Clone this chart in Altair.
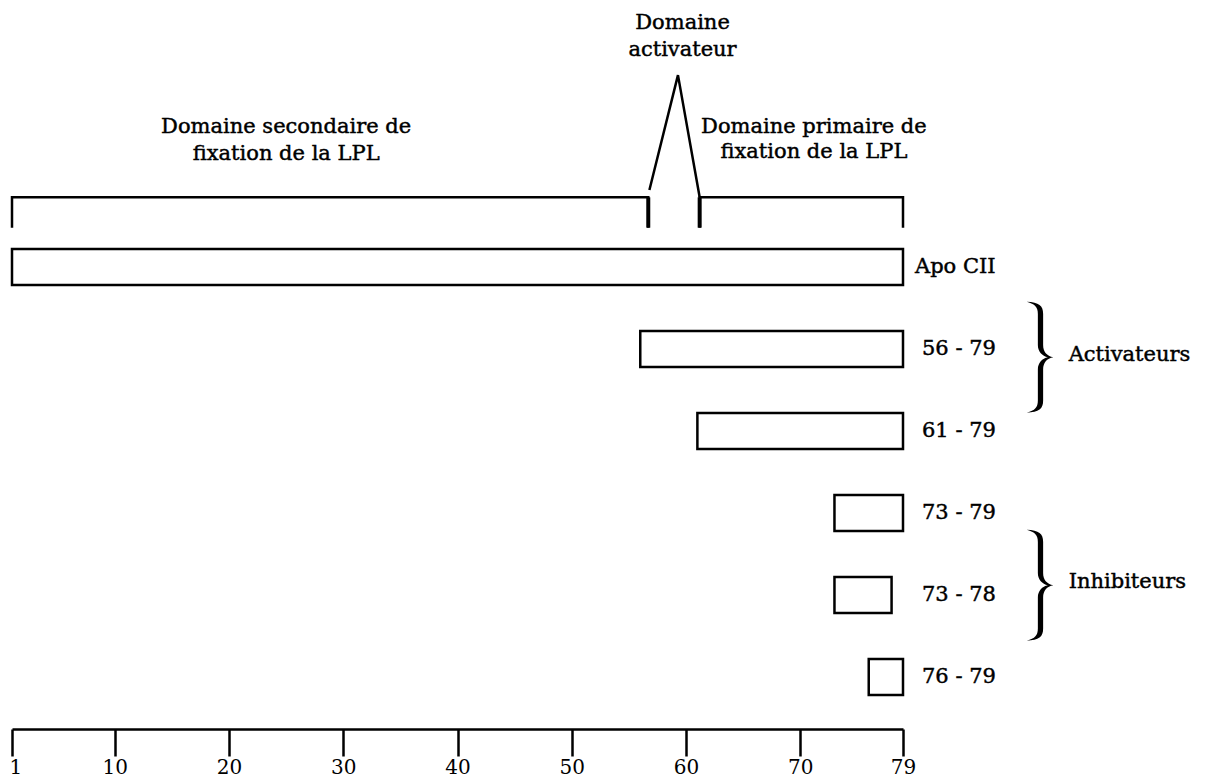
import altair as alt
import pandas as pd

# ---- data ----
pep_labels = ["Apo CII", "56 - 79", "61 - 79", "73 - 79", "73 - 78", "76 - 79"]
pep_start = [1, 56, 61, 73, 73, 76]
pep_end = [79, 79, 79, 79, 78, 79]
pep_row = [1, 2, 3, 4, 5, 6]
pep_label_x = [79, 79, 79, 79, 79, 79]

axis_ticks = [1, 10, 20, 30, 40, 50, 60, 70, 79]

# domain bracket (residue, row level)
br_segment = ["sec"] * 4 + ["act"] * 3 + ["prim"] * 4
br_x = [1, 1, 56.7, 56.7, 56.8, 59.3, 61.2, 61.2, 61.2, 79, 79]
br_row = [0.52, 0.15, 0.15, 0.52, 0.06, -1.34, 0.15, 0.52, 0.15, 0.15, 0.52]
br_thick_x = [56.7, 61.2]

dom_text = ["Domaine", "activateur", "Domaine secondaire de", "fixation de la LPL",
            "Domaine primaire de", "fixation de la LPL"]
dom_x = [59.7, 59.7, 25.0, 25.0, 71.2, 71.2]
dom_row = [-1.90, -1.57, -0.63, -0.30, -0.64, -0.33]

grp_text = ["Activateurs", "Inhibiteurs"]
grp_row = [2.07, 4.84]
brace_row = [2.10, 4.88]
brace_x = [91.0, 91.0]
grp_x = [93.5, 93.5]

FONT = "DejaVu Serif"
FS = 21
TXT = dict(font=FONT, fontSize=FS, color="black", stroke="black", strokeWidth=0.45)
BRACE = ("M -0.24 -1 C -0.02 -0.99 0.055 -0.93 0.055 -0.78 L 0.055 -0.22 "
         "C 0.055 -0.10 0.12 -0.02 0.24 0 C 0.12 0.02 0.055 0.10 0.055 0.22 "
         "L 0.055 0.78 C 0.055 0.93 -0.02 0.99 -0.24 1 "
         "C -0.09 0.96 -0.04 0.90 -0.04 0.78 L -0.04 0.22 "
         "C -0.04 0.10 0.04 0.02 0.14 0 C 0.04 -0.02 -0.04 -0.10 -0.04 -0.22 "
         "L -0.04 -0.78 C -0.04 -0.90 -0.09 -0.96 -0.24 -1 Z")

pep = pd.DataFrame({"label": pep_labels, "start": pep_start, "end": pep_end,
                    "row": pep_row, "lx": pep_label_x})
pep["lo"] = pep["row"] - 0.22
pep["hi"] = pep["row"] + 0.22
br = pd.DataFrame({"seg": br_segment, "x": br_x, "row": br_row, "i": range(len(br_x))})
thick = pd.DataFrame({"x": br_thick_x, "top": [0.15] * 2, "bot": [0.52] * 2})
dom = pd.DataFrame({"text": dom_text, "x": dom_x, "row": dom_row})
grp = pd.DataFrame({"text": grp_text, "row": grp_row, "brow": brace_row,
                    "bx": brace_x, "tx": grp_x})

xscale = alt.Scale(domain=[1, 79], nice=False, zero=False)
yscale = alt.Scale(domain=[-2.159, 6.634], reverse=True, nice=False, zero=False)

xaxis = alt.Axis(values=axis_ticks, title=None, grid=False, tickSize=27, tickWidth=2.5,
                 domainWidth=2.5, domainColor="black", tickColor="black",
                 labelFont=FONT, labelFontSize=20, labelColor="black", labelPadding=1,
                 labelFlush=False, labelOverlap=False, labelBound=False,
                 labelAlign={"expr": "datum.value == 1 ? 'left' : 'center'"},
                 labelOffset={"expr": "datum.value == 1 ? -3 : 0"})

bars = alt.Chart(pep).mark_rect(fill="white", stroke="black", strokeWidth=2.5).encode(
    x=alt.X("start:Q", scale=xscale, axis=xaxis),
    x2="end:Q",
    y=alt.Y("lo:Q", scale=yscale, axis=None),
    y2="hi:Q",
)

apo_lab = alt.Chart(pep[pep["row"] == 1]).mark_text(
    align="left", baseline="middle", dx=12, **TXT
).encode(x=alt.X("lx:Q", scale=xscale), y=alt.Y("row:Q", scale=yscale), text="label:N")

pep_lab = alt.Chart(pep[pep["row"] > 1]).mark_text(
    align="left", baseline="middle", dx=19, **TXT
).encode(x=alt.X("lx:Q", scale=xscale), y=alt.Y("row:Q", scale=yscale), text="label:N")

bracket = alt.Chart(br).mark_line(color="black", strokeWidth=2.5, strokeJoin="miter").encode(
    x=alt.X("x:Q", scale=xscale),
    y=alt.Y("row:Q", scale=yscale),
    detail="seg:N",
    order="i:Q",
)

thick_rules = alt.Chart(thick).mark_rule(color="black", strokeWidth=4).encode(
    x=alt.X("x:Q", scale=xscale),
    y=alt.Y("top:Q", scale=yscale),
    y2="bot:Q",
)

dom_lab = alt.Chart(dom).mark_text(
    align="center", baseline="alphabetic", **TXT
).encode(x=alt.X("x:Q", scale=xscale), y=alt.Y("row:Q", scale=yscale), text="text:N")

braces = alt.Chart(grp).mark_point(shape=BRACE, size=111 ** 2, filled=True,
                                   color="black", opacity=1).encode(
    x=alt.X("bx:Q", scale=xscale), y=alt.Y("brow:Q", scale=yscale)
)

grp_lab = alt.Chart(grp).mark_text(
    align="left", baseline="middle", **TXT
).encode(x=alt.X("tx:Q", scale=xscale), y=alt.Y("row:Q", scale=yscale), text="text:N")

chart = alt.layer(bars, bracket, thick_rules, apo_lab, pep_lab, dom_lab, braces, grp_lab).properties(
    width=891, height=721, autosize="none",
    padding={"left": 4, "top": 0, "right": 290, "bottom": 50},
    background="white",
).configure_view(stroke=None)

chart.save("out.html", embed_options={"renderer": "svg", "actions": False})
